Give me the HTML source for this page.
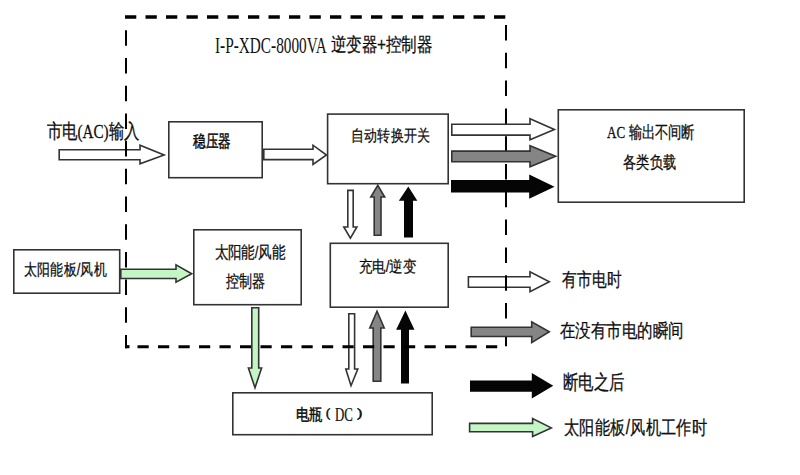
<!DOCTYPE html>
<html><head><meta charset="utf-8">
<style>
html,body{margin:0;padding:0;background:#fff;}
body{width:800px;height:475px;position:relative;overflow:hidden;font-family:"Liberation Sans",sans-serif;color:#111;}
.t{position:absolute;white-space:nowrap;line-height:1;transform-origin:0 0;}
.ser{font-family:"Liberation Serif",serif;}
</style></head><body>
<svg width="800" height="475" viewBox="0 0 800 475" style="position:absolute;left:0;top:0"><rect x="168.8" y="121.8" width="93.4" height="55.9" fill="#fff" stroke="#333333" stroke-width="1.6"/><rect x="327.6" y="114.1" width="120.6" height="69.6" fill="#fff" stroke="#333333" stroke-width="1.6"/><rect x="558.3" y="109.8" width="185.9" height="92.4" fill="#fff" stroke="#333333" stroke-width="1.6"/><rect x="13.8" y="249.8" width="105.9" height="43.4" fill="#fff" stroke="#333333" stroke-width="1.6"/><rect x="193.8" y="229.8" width="107.4" height="74.9" fill="#fff" stroke="#333333" stroke-width="1.6"/><rect x="330.3" y="243.3" width="117.9" height="63.9" fill="#fff" stroke="#333333" stroke-width="1.6"/><rect x="232.8" y="392.8" width="199.4" height="41.9" fill="#fff" stroke="#333333" stroke-width="1.6"/><path d="M59.2,149.8 L140.0,149.8 L140.0,145.3 L164.1,155.0 L140.0,163.8 L140.0,159.8 L59.2,159.8 Z" fill="#ffffff" stroke="#333333" stroke-width="1.6" stroke-linejoin="miter"/><path d="M120.8,269.2 L176.0,269.2 L176.0,264.8 L191.7,273.8 L176.0,282.2 L176.0,278.5 L120.8,278.5 Z" fill="#c4f5c4" stroke="#333333" stroke-width="1.6" stroke-linejoin="miter"/><path d="M348.8,313.8 L348.8,369.0 L345.8,369.0 L351.0,385.7 L357.8,369.0 L354.6,369.0 L354.6,313.8 Z" fill="#ffffff" stroke="#333333" stroke-width="1.6" stroke-linejoin="miter"/><path d="M373.2,381.2 L373.2,328.0 L369.8,328.0 L377.0,311.3 L384.2,328.0 L380.8,328.0 L380.8,381.2 Z" fill="#858585" stroke="#333333" stroke-width="1.6" stroke-linejoin="miter"/><path d="M401.8,382.8 L401.8,329.0 L397.4,329.0 L405.4,312.3 L413.2,329.0 L408.2,329.0 L408.2,382.8 Z" fill="#050505" stroke="#050505" stroke-width="1.6" stroke-linejoin="miter"/><path d="M468.4,276.8 L530.0,276.8 L530.0,271.8 L549.3,281.8 L530.0,291.8 L530.0,287.2 L468.4,287.2 Z" fill="#ffffff" stroke="#333333" stroke-width="1.6" stroke-linejoin="miter"/><line x1="125" y1="17" x2="506.5" y2="17" stroke="#000" stroke-width="3.6" stroke-dasharray="11.3 9.2"/><line x1="126" y1="30.3" x2="126" y2="348.3" stroke="#000" stroke-width="2" stroke-dasharray="15.5 12.2"/><line x1="506" y1="25" x2="506" y2="347" stroke="#000" stroke-width="2" stroke-dasharray="15.5 12.3"/><line x1="125" y1="346.7" x2="129.5" y2="346.7" stroke="#000" stroke-width="3.1"/><line x1="137.5" y1="346.7" x2="502" y2="346.7" stroke="#000" stroke-width="3.1" stroke-dasharray="11.2 9.3"/><path d="M263.8,149.2 L313.0,149.2 L313.0,145.2 L326.5,155.0 L313.0,164.5 L313.0,159.6 L263.8,159.6 Z" fill="#ffffff" stroke="#333333" stroke-width="1.6" stroke-linejoin="miter"/><path d="M451.8,124.2 L530.0,124.2 L530.0,118.8 L554.4,129.6 L530.0,139.7 L530.0,135.1 L451.8,135.1 Z" fill="#ffffff" stroke="#333333" stroke-width="1.6" stroke-linejoin="miter"/><path d="M451.8,151.1 L530.0,151.1 L530.0,145.8 L555.7,156.3 L530.0,166.8 L530.0,161.7 L451.8,161.7 Z" fill="#858585" stroke="#333333" stroke-width="1.6" stroke-linejoin="miter"/><path d="M451.8,180.8 L530.0,180.8 L530.0,175.8 L552.7,186.8 L530.0,197.6 L530.0,191.8 L451.8,191.8 Z" fill="#050505" stroke="#050505" stroke-width="1.6" stroke-linejoin="miter"/><path d="M251.8,307.8 L251.8,368.0 L248.4,368.0 L255.0,387.7 L261.6,368.0 L258.7,368.0 L258.7,307.8 Z" fill="#c4f5c4" stroke="#333333" stroke-width="1.6" stroke-linejoin="miter"/><path d="M347.8,190.4 L347.8,227.0 L343.8,227.0 L350.4,238.2 L356.9,227.0 L353.2,227.0 L353.2,190.4 Z" fill="#ffffff" stroke="#333333" stroke-width="1.6" stroke-linejoin="miter"/><path d="M374.2,235.2 L374.2,197.0 L370.8,197.0 L377.8,185.3 L384.7,197.0 L381.0,197.0 L381.0,235.2 Z" fill="#858585" stroke="#333333" stroke-width="1.6" stroke-linejoin="miter"/><path d="M404.8,236.7 L404.8,200.0 L400.3,200.0 L408.3,187.9 L415.9,200.0 L412.2,200.0 L412.2,236.7 Z" fill="#050505" stroke="#050505" stroke-width="1.6" stroke-linejoin="miter"/><path d="M471.2,327.2 L531.7,327.2 L531.7,321.8 L549.3,331.7 L531.7,342.6 L531.7,336.5 L471.2,336.5 Z" fill="#858585" stroke="#333333" stroke-width="1.6" stroke-linejoin="miter"/><path d="M470.8,381.3 L532.6,381.3 L532.6,374.4 L551.7,385.8 L532.6,397.2 L532.6,390.9 L470.8,390.9 Z" fill="#050505" stroke="#050505" stroke-width="1.6" stroke-linejoin="miter"/><path d="M469.6,423.4 L532.6,423.4 L532.6,418.6 L551.3,427.9 L532.6,436.6 L532.6,431.7 L469.6,431.7 Z" fill="#c4f5c4" stroke="#333333" stroke-width="1.6" stroke-linejoin="miter"/></svg>
<div class="t ser" style="left:215.19px;top:35.28px;font-size:15px;font-weight:400;-webkit-text-stroke:0.0px #000;transform:scale(1.019,1.517)">I-P-XDC-8000VA</div><div class="t" style="left:330.74px;top:34.94px;font-size:15px;font-weight:400;-webkit-text-stroke:0.2px #000;transform:scale(1.021,1.25)">逆变器+控制器</div><div class="t" style="left:46.65px;top:121.48px;font-size:15px;font-weight:400;-webkit-text-stroke:0.2px #000;transform:scale(1.013,1.312)">市电<span class="ser">(AC)</span>输入</div><div class="t" style="left:192.74px;top:133.42px;font-size:13px;font-weight:400;-webkit-text-stroke:0.35px #000;transform:scale(0.97,1.312)">稳压器</div><div class="t" style="left:350.62px;top:127.24px;font-size:13px;font-weight:400;-webkit-text-stroke:0.2px #000;transform:scale(1.017,1.254)">自动转换开关</div><div class="t" style="left:606.7px;top:123.91px;font-size:13px;font-weight:400;-webkit-text-stroke:0.2px #000;transform:scale(1.006,1.281)"><span class="ser">AC</span> 输出不间断</div><div class="t" style="left:623.49px;top:153.72px;font-size:13px;font-weight:400;-webkit-text-stroke:0.2px #000;transform:scale(1.024,1.318)">各类负载</div><div class="t" style="left:23.95px;top:261.49px;font-size:13px;font-weight:400;-webkit-text-stroke:0.2px #000;transform:scale(1.015,1.256)">太阳能板/风机</div><div class="t" style="left:214.65px;top:243.78px;font-size:13px;font-weight:400;-webkit-text-stroke:0.2px #000;transform:scale(1.018,1.273)">太阳能/风能</div><div class="t" style="left:226.4px;top:273.42px;font-size:13px;font-weight:400;-webkit-text-stroke:0.2px #000;transform:scale(1.013,1.318)">控制器</div><div class="t" style="left:359.19px;top:258.8px;font-size:13px;font-weight:400;-webkit-text-stroke:0.2px #000;transform:scale(1.025,1.224)">充电/逆变</div><div class="t" style="left:295.75px;top:407.35px;font-size:13px;font-weight:400;-webkit-text-stroke:0.35px #000;transform:scale(0.998,1.197)">电瓶</div><div class="t ser" style="left:325.96px;top:406.21px;font-size:13px;font-weight:400;-webkit-text-stroke:0.5px #000;transform:scale(0.976,1.017)">(</div><div class="t ser" style="left:335.25px;top:405.2px;font-size:13px;font-weight:400;-webkit-text-stroke:0.15px #000;transform:scale(0.986,1.422)">DC</div><div class="t ser" style="left:356.62px;top:406.21px;font-size:13px;font-weight:400;-webkit-text-stroke:0.5px #000;transform:scale(1.188,1.017)">)</div><div class="t" style="left:562.0px;top:269.27px;font-size:15px;font-weight:400;-webkit-text-stroke:0.2px #000;transform:scale(1.004,1.295)">有市电时</div><div class="t" style="left:560.3px;top:321.25px;font-size:15px;font-weight:400;-webkit-text-stroke:0.2px #000;transform:scale(1.031,1.268)">在没有市电的瞬间</div><div class="t" style="left:563.19px;top:371.79px;font-size:15px;font-weight:400;-webkit-text-stroke:0.2px #000;transform:scale(1.017,1.322)">断电之后</div><div class="t" style="left:563.88px;top:417.29px;font-size:15px;font-weight:400;-webkit-text-stroke:0.2px #000;transform:scale(1.03,1.286)">太阳能板/风机工作时</div>
</body></html>
